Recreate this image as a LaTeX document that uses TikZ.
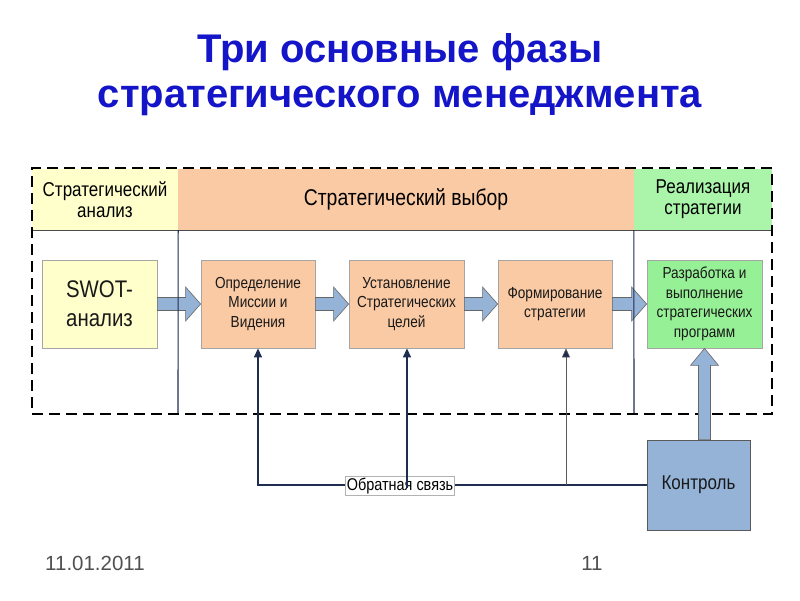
\documentclass[tikz,border=0pt]{standalone}
\usepackage{fontspec}
\setmainfont{Liberation Sans}
\newfontfamily\nf[FakeStretch=0.85]{Liberation Sans}
\usetikzlibrary{arrows.meta,calc}
\definecolor{titleblue}{RGB}{20,20,200}
\definecolor{hyellow}{RGB}{255,255,204}
\definecolor{peach}{RGB}{250,202,164}
\definecolor{hgreen}{RGB}{170,245,170}
\definecolor{bgreen}{RGB}{150,240,150}
\definecolor{ablue}{RGB}{149,179,215}
\definecolor{navy}{RGB}{31,45,80}
\definecolor{edgegray}{RGB}{165,165,165}
\definecolor{footgray}{RGB}{80,80,80}
\tikzset{
  titletext/.style={font=\fontsize{40}{44}\selectfont\bfseries, text=titleblue},
  hdr/.style={inner sep=0pt, align=center, font=\nf\fontsize{20}{22}\selectfont},
  box/.style={draw=edgegray, line width=0.8pt, inner sep=2pt, align=center, minimum height=88pt,
    font=\nf\fontsize{16}{19.5}\selectfont, text=black!90},
  barrow/.style={fill=ablue, draw=gray!80!black, line width=0.6pt},
  fb/.style={draw=navy, line width=1.3pt, -{Triangle[length=9pt,width=8pt]}},
  fbthin/.style={draw=gray!70!black, line width=0.6pt, -{Triangle[length=9pt,width=8pt,fill=navy]}},
  vline/.style={draw=navy, line width=1.1pt},
  frame/.style={draw=black, line width=2.2pt, dash pattern=on 11pt off 6pt},
  foot/.style={font=\fontsize{20.5}{22}\selectfont, text=footgray}
}
\newcommand\harrow[2]{%
  \path let \p1=(#1.east), \p2=(#2.west) in
    [barrow] (\x1,{\y1+6.5pt}) -- ({\x2-15pt},{\y1+6.5pt}) -- ({\x2-15pt},{\y1+17pt})
    -- (\x2,\y1) -- ({\x2-15pt},{\y1-17pt}) -- ({\x2-15pt},{\y1-6.5pt}) -- (\x1,{\y1-6.5pt}) -- cycle;}
\begin{document}
\begin{tikzpicture}[x=1pt,y=-1pt]
\useasboundingbox[fill=white] (0,0) rectangle (800,600);
% title
\node[titletext] (t1) at (400,52) {Три основные фазы};
\node[titletext] (t2) at (400,101) {стратегического менеджмента};
% header cells
\node[hdr, fill=hyellow, minimum width=146pt, minimum height=61pt] (ha) at (105,199.5) {Стратегический\\[-1pt]анализ};
\node[hdr, fill=peach, minimum width=456pt, minimum height=61pt, font=\nf\fontsize{22.8}{24}\selectfont] (hb) at (406,199.5) {Стратегический выбор};
\node[hdr, fill=hgreen, minimum width=138pt, minimum height=61pt] (hc) at (703,199.5) {Реализация\\[-1pt]стратегии};
\draw[draw=black!70, line width=0.8pt] (ha.south west) -- (hc.south east);
% boxes
\node[box, fill=hyellow, minimum width=115pt, font=\nf\fontsize{24}{29}\selectfont] (swot) at (99.5,304) {SWOT-\\анализ};
\node[box, fill=peach, minimum width=114pt] (opr) at (258,304) {Определение\\Миссии и\\Видения};
\node[box, fill=peach, minimum width=115pt] (ust) at (406.5,304) {Установление\\Стратегических\\целей};
\node[box, fill=peach, minimum width=114pt] (form) at (555,304) {Формирование\\стратегии};
\node[box, fill=bgreen, minimum width=115pt] (razr) at (704.5,304) {Разработка и\\выполнение\\стратегических\\программ};
\node[box, fill=ablue, draw=gray!70!black, minimum width=103pt, minimum height=90pt, font=\nf\fontsize{20}{22}\selectfont] (kon) at (698.5,485) {Контроль};
% block arrows
\harrow{swot}{opr}
\harrow{opr}{ust}
\harrow{ust}{form}
\harrow{form}{razr}
% vertical separators
\coordinate (v1) at (178,413);
\coordinate (v2) at (634,413);
\draw[vline] (ha.south east) -- (v1);
\draw[vline] (hc.south west) -- (v2);
% dashed frame
\node[frame, minimum width=740pt, minimum height=246pt, inner sep=0pt] (fr) at (402,291) {};
% control arrow
\path let \p1=(razr.south |- kon.north), \p2=(razr.south) in
  [barrow] ({\x1-6pt},\y1) -- ({\x1-6pt},{\y2-17pt}) -- ({\x1-14pt},{\y2-17pt}) -- (\x1,\y2)
  -- ({\x1+14pt},{\y2-17pt}) -- ({\x1+6pt},{\y2-17pt}) -- ({\x1+6pt},\y1) -- cycle;
% feedback
\coordinate (f1) at (258,485);
\coordinate (f3) at (566,485);
\draw[fb] (kon.west) -- (f1) -- (opr.south);
\draw[fbthin] (f3) -- (f3 |- form.south);
\node[draw=gray!60, fill=white, line width=0.5pt, inner sep=1.5pt, font=\nf\fontsize{17}{19}\selectfont] (fs) at (400,486) {Обратная связь};
\coordinate (f2) at (407,488);
\draw[fb] (f2) -- (f2 |- ust.south);
% footer
\node[foot] (date) at (95,563) {11.01.2011};
\node[foot] (pg) at (592,563) {11};
\end{tikzpicture}
\end{document}
